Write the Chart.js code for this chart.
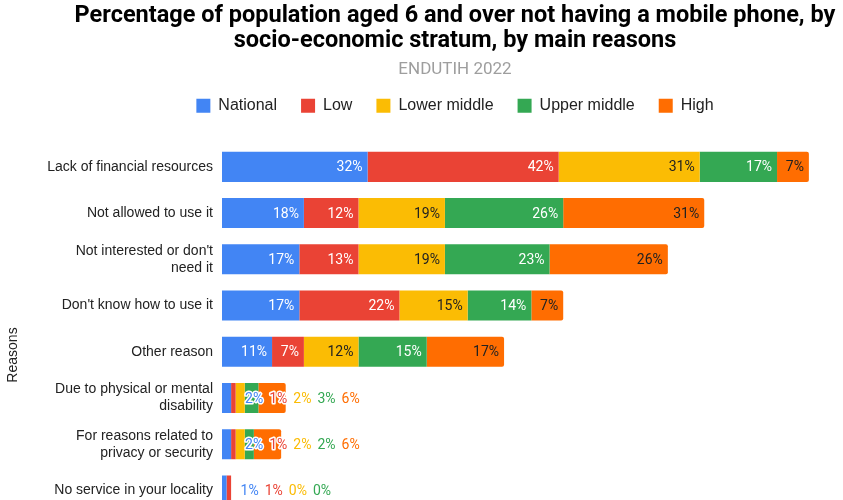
<!DOCTYPE html>
<html>
<head>
<meta charset="utf-8">
<script src="https://cdn.jsdelivr.net/npm/chart.js@4.4.0/dist/chart.umd.min.js"></script>
<style>
  html, body { margin: 0; padding: 0; background: #fff; overflow: hidden; }
  #wrap { position: relative; width: 843px; height: 531px; }
</style>
</head>
<body>
<div id="wrap"><canvas id="grafico"></canvas></div>
<script>
// ---- data ----
const motivos = [
  'Lack of financial resources',
  'Not allowed to use it',
  ["Not interested or don't", 'need it'],
  "Don't know how to use it",
  'Other reason',
  ['Due to physical or mental', 'disability'],
  ['For reasons related to', 'privacy or security'],
  'No service in your locality'
];
const nacional     = [32, 18, 17, 17, 11, 2, 2, 1];
const bajo         = [42, 12, 13, 22, 7, 1, 1, 1];
const medioBajo    = [31, 19, 19, 15, 12, 2, 2, 0];
const medioAlto    = [17, 26, 23, 14, 15, 3, 2, 0];
const alto         = [7, 31, 26, 7, 17, 6, 6, null];
const nomesSeries  = ['National', 'Low', 'Lower middle', 'Upper middle', 'High'];

const cores = ['#4285F4', '#EA4335', '#FBBC04', '#34A853', '#FF6D01'];
const coresTextoDentro = ['#ffffff', '#ffffff', '#222222', '#ffffff', '#222222'];

Chart.defaults.font.family = '"Liberation Sans", Arial, sans-serif';
Chart.defaults.color = '#222';

// etiquetas de porcentagem (dentro do segmento, ou em fila à direita quando não cabem)
const rotulosSegmentos = {
  id: 'rotulosSegmentos',
  afterDatasetsDraw(chart) {
    const ctx = chart.ctx;
    ctx.save();
    ctx.font = '14px Roboto';
    ctx.textBaseline = 'middle';
    chart.data.labels.forEach((_, i) => {
      const segs = [];
      chart.data.datasets.forEach((ds, d) => {
        const v = ds.data[i];
        if (v === null || v === undefined) return;
        segs.push({ texto: v + '%', bar: chart.getDatasetMeta(d).data[i], d });
      });
      const naoCabe = segs.some(s => Math.abs(s.bar.x - s.bar.base) < ctx.measureText(s.texto).width + 8);
      if (!naoCabe) {
        ctx.textAlign = 'right';
        segs.forEach(s => {
          ctx.fillStyle = coresTextoDentro[s.d];
          ctx.fillText(s.texto, s.bar.x - 5, s.bar.y + 1);
        });
      } else {
        ctx.textAlign = 'left';
        let proximo = -Infinity;
        segs.forEach(s => {
          const w = ctx.measureText(s.texto).width;
          const x = Math.max(s.bar.x + 14, proximo);
          ctx.strokeStyle = '#fff';
          ctx.lineWidth = 3;
          ctx.lineJoin = 'round';
          ctx.strokeText(s.texto, x, s.bar.y + 1);
          ctx.fillStyle = cores[s.d];
          ctx.fillText(s.texto, x, s.bar.y + 1);
          proximo = x + w + 6;
        });
      }
    });
    ctx.restore();
  }
};

// título do eixo vertical + ajustes de layout
const tituloEixo = {
  id: 'tituloEixo',
  beforeInit(chart) {
    // espaço extra entre a legenda e as barras
    const fitOriginal = chart.legend.fit;
    chart.legend.fit = function () {
      fitOriginal.call(this);
      this.height += 20;
    };
  },
  afterLayout(chart) {
    // não cortar os rótulos longos do eixo y
    chart.scales.y.left = 0;
  },
  afterDraw(chart) {
    const ctx = chart.ctx;
    ctx.save();
    ctx.translate(13, 355);
    ctx.rotate(-Math.PI / 2);
    ctx.font = '14px "Liberation Sans", Arial, sans-serif';
    ctx.fillStyle = '#222';
    ctx.textAlign = 'center';
    ctx.textBaseline = 'middle';
    ctx.fillText('Reasons', 0, 0);
    ctx.restore();
  }
};

const series = [nacional, bajo, medioBajo, medioAlto, alto];

new Chart(document.getElementById('grafico'), {
  type: 'bar',
  data: {
    labels: motivos,
    datasets: series.map((dados, d) => ({
      label: nomesSeries[d],
      data: dados,
      backgroundColor: cores[d],
      borderWidth: 0,
      borderRadius: d === 4 ? { topRight: 2, bottomRight: 2 } : 0,
      borderSkipped: false,
      categoryPercentage: 0.65,
      barPercentage: 1
    }))
  },
  options: {
    indexAxis: 'y',
    responsive: true,
    maintainAspectRatio: false,
    animation: false,
    layout: { padding: { left: 67, right: 0, top: 4, bottom: 8 } },
    scales: {
      x: { stacked: true, min: 0, max: 136.5, display: false },
      y: {
        stacked: true,
        grid: { display: false, drawTicks: false },
        border: { display: false },
        ticks: { color: '#222', padding: 9, font: { size: 14 } },
        afterFit(scale) { scale.width = 222 - 67; }
      }
    },
    plugins: {
      title: {
        display: true,
        text: ['Percentage of population aged 6 and over not having a mobile phone, by', 'socio-economic stratum, by main reasons'],
        color: '#000',
        font: { family: 'Roboto', size: 23.5, weight: 'bold', lineHeight: 1.05 },
        padding: { top: 0, bottom: 6 }
      },
      subtitle: {
        display: true,
        text: 'ENDUTIH 2022',
        color: '#9e9e9e',
        font: { family: 'Roboto', size: 17 },
        padding: { top: 0, bottom: -6 }
      },
      legend: {
        position: 'top',
        labels: { boxWidth: 14, boxHeight: 14, padding: 24, color: '#222', font: { size: 16 } }
      },
      tooltip: { enabled: false }
    }
  },
  plugins: [rotulosSegmentos, tituloEixo]
});
</script>
</body>
</html>
